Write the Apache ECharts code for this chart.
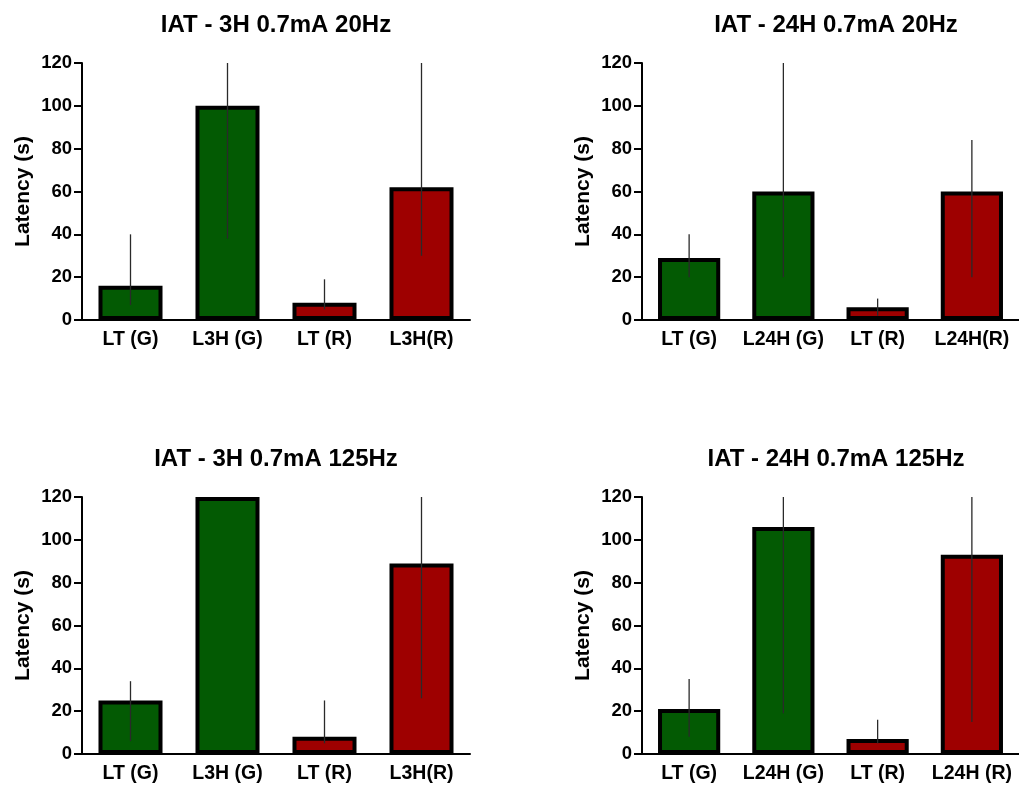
<!DOCTYPE html>
<html>
<head>
<meta charset="utf-8">
<script src="https://cdn.jsdelivr.net/npm/echarts@6/dist/echarts.min.js"></script>
<style>
  html, body { margin: 0; padding: 0; background: #fff; }
  #chart { width: 1019px; height: 787px; }
</style>
</head>
<body>
<div id="chart"></div>
<script>
// panel titles
const titles = ['IAT - 3H 0.7mA 20Hz', 'IAT - 24H 0.7mA 20Hz', 'IAT - 3H 0.7mA 125Hz', 'IAT - 24H 0.7mA 125Hz'];

// categories for each panel
const cats3H = ['LT (G)', 'L3H (G)', 'LT (R)', 'L3H(R)'];
const cats24H20 = ['LT (G)', 'L24H (G)', 'LT (R)', 'L24H(R)'];
const cats24H125 = ['LT (G)', 'L24H (G)', 'LT (R)', 'L24H (R)'];

// means (s)
const mean3H20 = [16, 100, 8, 62];
const mean24H20 = [29, 60, 6, 60];
const mean3H125 = [25, 120, 8, 89];
const mean24H125 = [21, 106, 7, 93];

// error bar low / high ends
const low3H20 = [7, 38, 5, 30];
const high3H20 = [40, 120, 19, 120];
const low24H20 = [20, 20, 2, 20];
const high24H20 = [40, 120, 10, 84];
const low3H125 = [6, 120, 5, 26];
const high3H125 = [34, 120, 25, 120];
const low24H125 = [8, 19, 5, 15];
const high24H125 = [35, 120, 16, 120];

const yTicks = [0, 20, 40, 60, 80, 100, 120];

const GREEN = '#035a03';
const RED = '#9e0000';
const barColors = [GREEN, GREEN, RED, RED];
const FONT = '"Liberation Sans", Arial, sans-serif';

const panels = [
  { cats: cats3H, mean: mean3H20, low: low3H20, high: high3H20 },
  { cats: cats24H20, mean: mean24H20, low: low24H20, high: high24H20 },
  { cats: cats3H, mean: mean3H125, low: low3H125, high: high3H125 },
  { cats: cats24H125, mean: mean24H125, low: low24H125, high: high24H125 }
];

const gridLeft = [82, 642, 82, 642];
const gridTop = [63, 63, 497, 497];

const chart = echarts.init(document.getElementById('chart'), null, { renderer: 'canvas' });

const grid = [], xAxis = [], yAxis = [], series = [], graphic = [];

panels.forEach((p, k) => {
  grid.push({ left: gridLeft[k], top: gridTop[k], width: 388, height: 257, containLabel: false });
  xAxis.push({
    type: 'category',
    gridIndex: k,
    data: p.cats,
    axisLine: { lineStyle: { color: '#000', width: 2 } },
    axisTick: { alignWithLabel: true, length: 8, lineStyle: { color: '#000', width: 2 } },
    axisLabel: { color: '#000', fontFamily: FONT, fontWeight: 'bold', fontSize: 19.5, margin: 10, interval: 0 },
    splitLine: { show: false }
  });
  yAxis.push({
    type: 'value',
    gridIndex: k,
    min: 0,
    max: yTicks[yTicks.length - 1],
    interval: 20,
    name: 'Latency (s)',
    nameLocation: 'middle',
    nameGap: 48,
    nameTextStyle: { color: '#000', fontFamily: FONT, fontWeight: 'bold', fontSize: 21 },
    axisLine: { show: true, lineStyle: { color: '#000', width: 2 } },
    axisTick: { show: true, length: 8, lineStyle: { color: '#000', width: 2 } },
    axisLabel: { color: '#000', fontFamily: FONT, fontWeight: 'bold', fontSize: 18.5, margin: 10 },
    splitLine: { show: false }
  });
  series.push({
    type: 'bar',
    xAxisIndex: k,
    yAxisIndex: k,
    barWidth: '66%',
    data: p.mean.map((v, i) => ({
      value: v,
      itemStyle: { color: barColors[i], borderColor: '#000', borderWidth: 4 }
    })),
    z: 2
  });
  series.push({
    type: 'custom',
    xAxisIndex: k,
    yAxisIndex: k,
    data: p.low.map((lo, i) => [i, lo, p.high[i]]),
    encode: { x: 0, y: [1, 2] },
    renderItem: (params, api) => {
      const a = api.coord([api.value(0), api.value(1)]);
      const b = api.coord([api.value(0), api.value(2)]);
      return {
        type: 'line',
        shape: { x1: a[0], y1: a[1], x2: b[0], y2: b[1] },
        style: { stroke: '#2a2a2a', lineWidth: 1.3 }
      };
    },
    z: 5
  });
  graphic.push({
    type: 'text',
    x: gridLeft[k] + 194,
    y: gridTop[k] - 38,
    style: {
      text: titles[k],
      fill: '#000',
      font: 'bold 24px ' + FONT,
      textAlign: 'center',
      textVerticalAlign: 'middle'
    }
  });
});

chart.setOption({
  animation: false,
  backgroundColor: '#fff',
  grid: grid,
  xAxis: xAxis,
  yAxis: yAxis,
  series: series,
  graphic: graphic
});
</script>
</body>
</html>
